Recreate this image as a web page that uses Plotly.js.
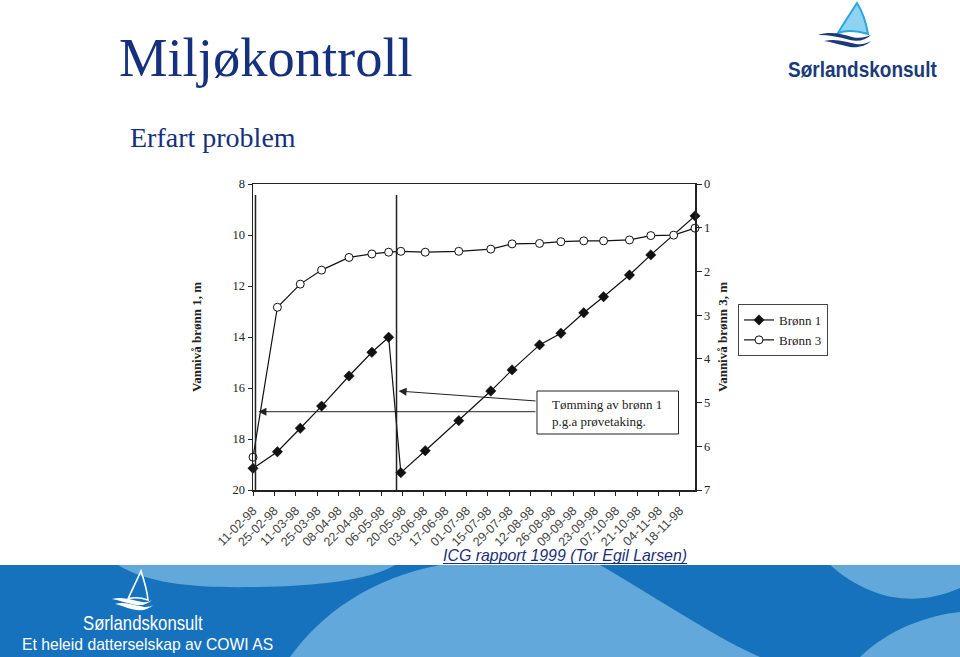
<!DOCTYPE html>
<html>
<head>
<meta charset="utf-8">
<script src="https://cdn.plot.ly/plotly-3.0.1.min.js"></script>
<style>
  html, body { margin:0; padding:0; background:#fff; }
  #wrap { position:relative; width:960px; height:657px; overflow:hidden; }
  #chart { position:absolute; left:0; top:0; width:960px; height:657px; }
  #deco { position:absolute; left:0; top:0; pointer-events:none; }
</style>
</head>
<body>
<div id="wrap">
  <div id="chart"></div>
  <svg id="deco" width="960" height="657" xmlns="http://www.w3.org/2000/svg">
    <!-- header -->
    <text x="119" y="76" font-family="Liberation Serif, Times New Roman, serif" font-size="54.5" fill="#15307e">Miljøkontroll</text>
    <text x="130" y="147" font-family="Liberation Serif, Times New Roman, serif" font-size="28" fill="#15307e">Erfart problem</text>
    <!-- top-right logo -->
    <path d="M857,3 C850,14 842,26 838,33 C846,30 858,31 868,34 C866,22 862,11 857,3 Z" fill="#8fd3f2" stroke="#2aa7df" stroke-width="2"/>
    <path d="M818,35 C830,31 842,34 852,37 C860,39 866,37 871,35 C866,40 858,42 850,40 C840,37 830,35 818,35 Z" fill="#1b3a7a"/>
    <path d="M824,41 C836,38 846,42 856,44 C862,45 867,43 871,41 C866,46 858,48 850,47 C840,45 832,42 824,41 Z" fill="#1b3a7a"/>
    <text transform="translate(788,77) scale(1,1.2)" font-family="Liberation Sans, Arial, sans-serif" font-weight="bold" font-size="19" fill="#1b3a7a">Sørlandskonsult</text>
    <!-- source -->
    <text x="443" y="561" font-family="Liberation Sans, Arial, sans-serif" font-style="italic" font-size="15.9" fill="#1b2f78">ICG rapport 1999 (Tor Egil Larsen)</text>
    <line x1="443" y1="563.5" x2="687" y2="563.5" stroke="#1b2f78" stroke-width="1"/>
    <!-- footer band -->
    <rect x="0" y="565" width="960" height="92" fill="#1672bd"/>
    <path d="M118,565 C150,585 200,588 255,587 C320,586 370,580 395,565 Z" fill="#62a8da"/>
    <path d="M290,657 C320,615 370,578 440,565 L600,565 C660,600 720,640 760,657 Z" fill="#62a8da"/>
    <path d="M830,565 L960,565 L960,588 C915,608 870,600 830,565 Z" fill="#62a8da"/>
    <path d="M860,657 C890,628 930,615 960,612 L960,657 Z" fill="#62a8da"/>
    <!-- footer logo -->
    <path d="M141,571 C136,582 131,592 128,599 C134,597 142,598 148,600 C147,590 144,580 141,571 Z" fill="none" stroke="#ffffff" stroke-width="1.6"/>
    <path d="M112,599 C122,596 132,600 142,602 C147,603 150,601 152,600 C148,604 142,606 136,605 C126,603 118,600 112,599 Z" fill="#ffffff"/>
    <path d="M115,604 C125,601 135,606 145,607 C149,607 151,606 153,605 C149,609 143,611 137,610 C128,609 121,605 115,604 Z" fill="#ffffff"/>
    <text transform="translate(83,630) scale(1,1.22)" font-family="Liberation Sans, Arial, sans-serif" font-size="16.7" fill="#ffffff">Sørlandskonsult</text>
    <text transform="translate(22,650)" font-family="Liberation Sans, Arial, sans-serif" font-size="15.7" fill="#ffffff">Et heleid datterselskap av COWI AS</text>
  </svg>
</div>
<script>
// ---- data ----
const tickDates = ['1998-02-11','1998-02-25','1998-03-11','1998-03-25','1998-04-08','1998-04-22','1998-05-06',
  '1998-05-20','1998-06-03','1998-06-17','1998-07-01','1998-07-15','1998-07-29','1998-08-12','1998-08-26',
  '1998-09-09','1998-09-23','1998-10-07','1998-10-21','1998-11-04','1998-11-18'];
const tickLabels = ['11-02-98','25-02-98','11-03-98','25-03-98','08-04-98','22-04-98','06-05-98',
  '20-05-98','03-06-98','17-06-98','01-07-98','15-07-98','29-07-98','12-08-98','26-08-98',
  '09-09-98','23-09-98','07-10-98','21-10-98','04-11-98','18-11-98'];

const datesBronn1 = ['1998-02-11','1998-02-27','1998-03-14','1998-03-28','1998-04-15','1998-04-30','1998-05-11',
  '1998-05-19','1998-06-04','1998-06-26','1998-07-17','1998-07-31','1998-08-18','1998-09-01','1998-09-16',
  '1998-09-29','1998-10-16','1998-10-30','1998-11-28'];
const bronn1 = [19.15, 18.50, 17.58, 16.71, 15.53, 14.60, 14.01,
  19.32, 18.46, 17.28, 16.12, 15.29, 14.31, 13.85, 13.05,
  12.42, 11.57, 10.78, 9.25];

const datesBronn3 = ['1998-02-11','1998-02-27','1998-03-14','1998-03-28','1998-04-15','1998-04-30','1998-05-11',
  '1998-05-19','1998-06-04','1998-06-26','1998-07-17','1998-07-31','1998-08-18','1998-09-01','1998-09-16',
  '1998-09-29','1998-10-16','1998-10-30','1998-11-14','1998-11-28'];
const bronn3 = [6.25, 2.82, 2.29, 1.97, 1.68, 1.60, 1.56,
  1.54, 1.56, 1.54, 1.49, 1.37, 1.36, 1.32, 1.30,
  1.30, 1.28, 1.18, 1.17, 1.01];

const emptyingDates = ['1998-02-12 15:00', '1998-05-16 04:00'];
const noteText = 'Tømming av brønn 1<br>p.g.a prøvetaking.';

const serif = 'Liberation Serif, Times New Roman, serif';
const ink = '#222';

const traces = [
  { x: datesBronn1, y: bronn1, name: 'Brønn 1', type: 'scatter', mode: 'lines+markers', yaxis: 'y',
    cliponaxis: false,
    line: { color: '#111', width: 1.2 },
    marker: { symbol: 'diamond', size: 8, color: '#111', line: { color: '#111', width: 0.5 } } },
  { x: datesBronn3, y: bronn3, name: 'Brønn 3', type: 'scatter', mode: 'lines+markers', yaxis: 'y2',
    cliponaxis: false,
    line: { color: '#111', width: 1.2 },
    marker: { symbol: 'circle', size: 8, color: '#fff', line: { color: '#111', width: 1 } } }
];

const shapes = emptyingDates.map(d => ({
  type: 'line', xref: 'x', yref: 'paper', x0: d, x1: d, y0: 0, y1: 0.964,
  line: { color: ink, width: 1.5 }
}));
shapes.push({ type: 'rect', xref: 'paper', yref: 'paper', x0: 0.6425, x1: 0.9627, y0: 0.183, y1: 0.3235,
  fillcolor: '#fff', line: { color: ink, width: 1 } });

const layout = {
  width: 960, height: 657,
  margin: { l: 253, r: 265, t: 184, b: 167 },
  paper_bgcolor: 'rgba(0,0,0,0)', plot_bgcolor: '#fff',
  showlegend: true,
  legend: { x: 1.0973, y: 0.6078, xanchor: 'left', yanchor: 'top', bgcolor: '#fff',
    bordercolor: '#444', borderwidth: 1, font: { family: serif, size: 13, color: ink } },
  xaxis: {
    type: 'date', range: ['1998-02-11', '1998-11-28'],
    tickvals: tickDates, ticktext: tickLabels, tickangle: -45,
    tickfont: { family: 'Liberation Sans, Arial, sans-serif', size: 12.5, color: '#444' },
    ticks: 'outside', ticklen: 4, tickcolor: ink, ticklabelstandoff: 3,
    showline: true, mirror: true, linecolor: ink, linewidth: 1.5,
    showgrid: false, zeroline: false
  },
  yaxis: {
    range: [20, 8], dtick: 2, tick0: 8,
    tickfont: { family: serif, size: 12.5, color: ink },
    ticks: 'outside', ticklen: 4, tickcolor: ink,
    showline: true, linecolor: ink, linewidth: 1.5,
    showgrid: false, zeroline: false,
    title: { text: '<b>Vannivå brønn 1, m</b>', font: { family: serif, size: 13, color: ink }, standoff: 28 }
  },
  yaxis2: {
    overlaying: 'y', side: 'right',
    range: [7, 0], dtick: 1, tick0: 0,
    tickfont: { family: serif, size: 12.5, color: ink },
    ticks: 'outside', ticklen: 5, tickcolor: ink,
    showline: true, linecolor: ink, linewidth: 1.5,
    showgrid: false, zeroline: false,
    title: { text: '<b>Vannivå brønn 3, m</b>', font: { family: serif, size: 13, color: ink }, standoff: 8 }
  },
  shapes: shapes,
  annotations: [
    { xref: 'x', yref: 'y', x: '1998-05-17 12:00', y: 16.12, ax: 138.5, ay: 10, text: '', showarrow: true,
      arrowhead: 2, arrowsize: 1.6, arrowwidth: 1, arrowcolor: ink },
    { xref: 'x', yref: 'y', x: '1998-02-14 14:00', y: 16.93, ax: 278.5, ay: 0, text: '', showarrow: true,
      arrowhead: 2, arrowsize: 1.6, arrowwidth: 1, arrowcolor: ink },
    { xref: 'paper', yref: 'paper', x: 0.672, y: 0.253, xanchor: 'left', yanchor: 'middle', align: 'left',
      text: noteText, showarrow: false, font: { family: serif, size: 13, color: ink } }
  ]
};

Plotly.newPlot('chart', traces, layout, { displayModeBar: false, staticPlot: true });
</script>
</body>
</html>
